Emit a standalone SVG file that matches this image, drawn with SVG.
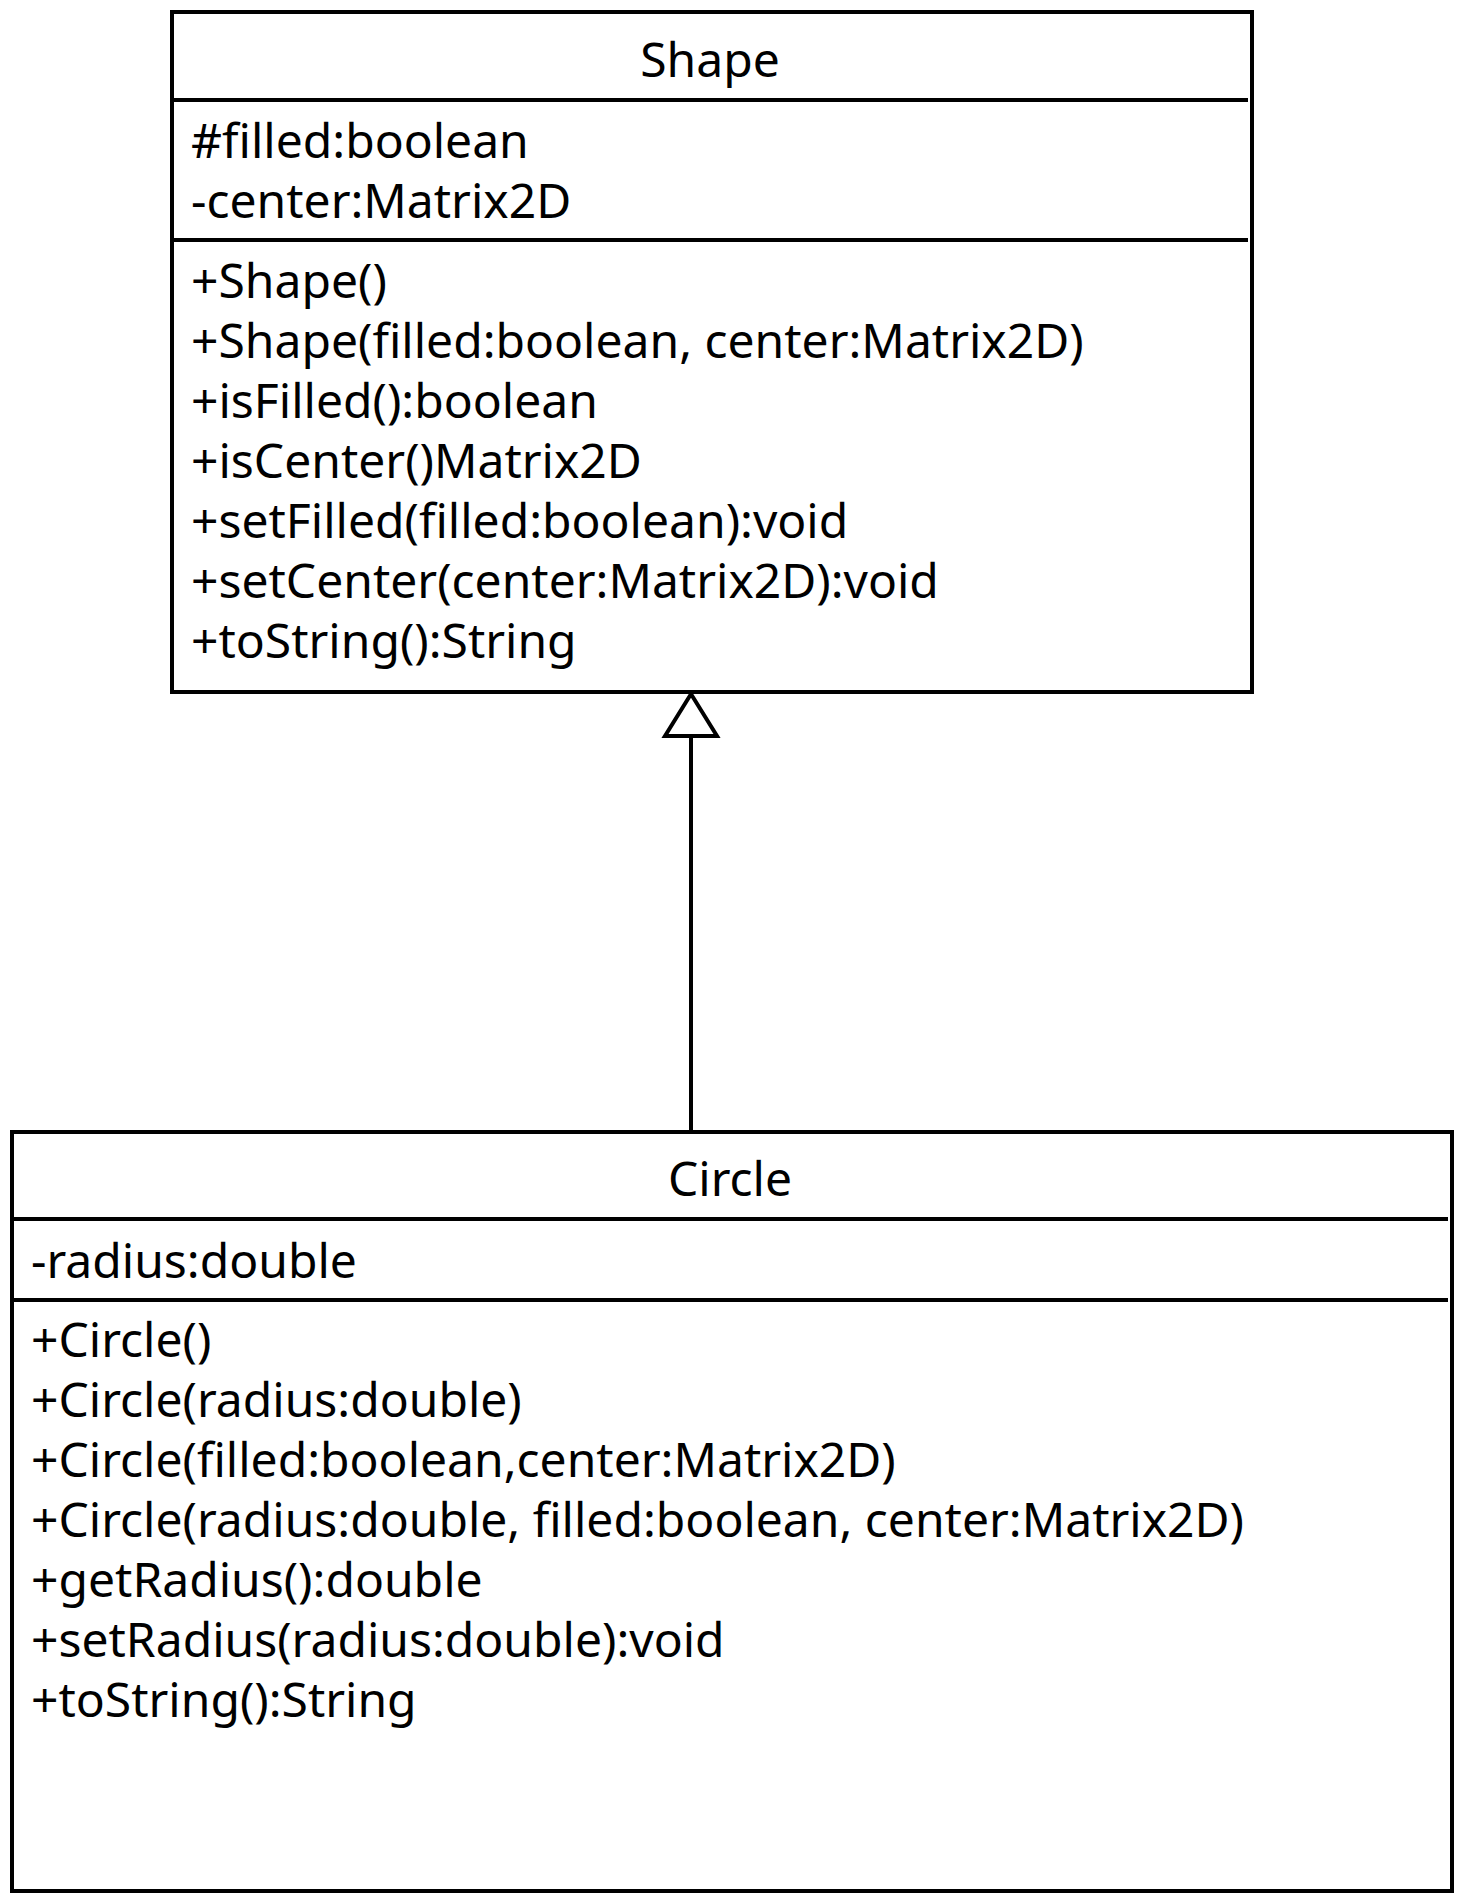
<svg xmlns="http://www.w3.org/2000/svg" width="1460" height="1900" viewBox="0 0 1460 1900">
<style>
.box{fill:#fff;stroke:#000;stroke-width:4}
.div{stroke:#000;stroke-width:4}
.t{font-family:"Noto Sans","Open Sans","DejaVu Sans",sans-serif;font-size:48px;fill:#000}
.c{text-anchor:middle}
.edge{stroke:#000;stroke-width:4;fill:none}
.head{stroke:#000;stroke-width:4;fill:#fff;stroke-linejoin:miter}
</style>
<rect width="1460" height="1900" fill="#fff"/>
<g id="connectors">
<line class="edge" x1="691" y1="1132" x2="691" y2="736"/>
<polygon class="head" points="691,694 665,736 717,736"/>
</g>
<g id="Shape">
<rect class="box" x="172" y="12" width="1080" height="680"/>
<line class="div" x1="172" y1="100" x2="1248" y2="100"/>
<line class="div" x1="172" y1="240" x2="1248" y2="240"/>
<text class="t c" x="710" y="77">Shape</text>
<text class="t" x="191" y="158">#filled:boolean</text>
<text class="t" x="191" y="218">-center:Matrix2D</text>
<text class="t" x="191" y="298">+Shape()</text>
<text class="t" x="191" y="358">+Shape(filled:boolean, center:Matrix2D)</text>
<text class="t" x="191" y="418">+isFilled():boolean</text>
<text class="t" x="191" y="478">+isCenter()Matrix2D</text>
<text class="t" x="191" y="538">+setFilled(filled:boolean):void</text>
<text class="t" x="191" y="598">+setCenter(center:Matrix2D):void</text>
<text class="t" x="191" y="658">+toString():String</text>
</g>
<g id="Circle">
<rect class="box" x="12" y="1132" width="1440" height="759"/>
<line class="div" x1="12" y1="1219" x2="1448" y2="1219"/>
<line class="div" x1="12" y1="1300" x2="1448" y2="1300"/>
<text class="t c" x="730" y="1196">Circle</text>
<text class="t" x="31" y="1278">-radius:double</text>
<text class="t" x="31" y="1357">+Circle()</text>
<text class="t" x="31" y="1417">+Circle(radius:double)</text>
<text class="t" x="31" y="1477">+Circle(filled:boolean,center:Matrix2D)</text>
<text class="t" x="31" y="1537">+Circle(radius:double, filled:boolean, center:Matrix2D)</text>
<text class="t" x="31" y="1597">+getRadius():double</text>
<text class="t" x="31" y="1657">+setRadius(radius:double):void</text>
<text class="t" x="31" y="1717">+toString():String</text>
</g>
</svg>
